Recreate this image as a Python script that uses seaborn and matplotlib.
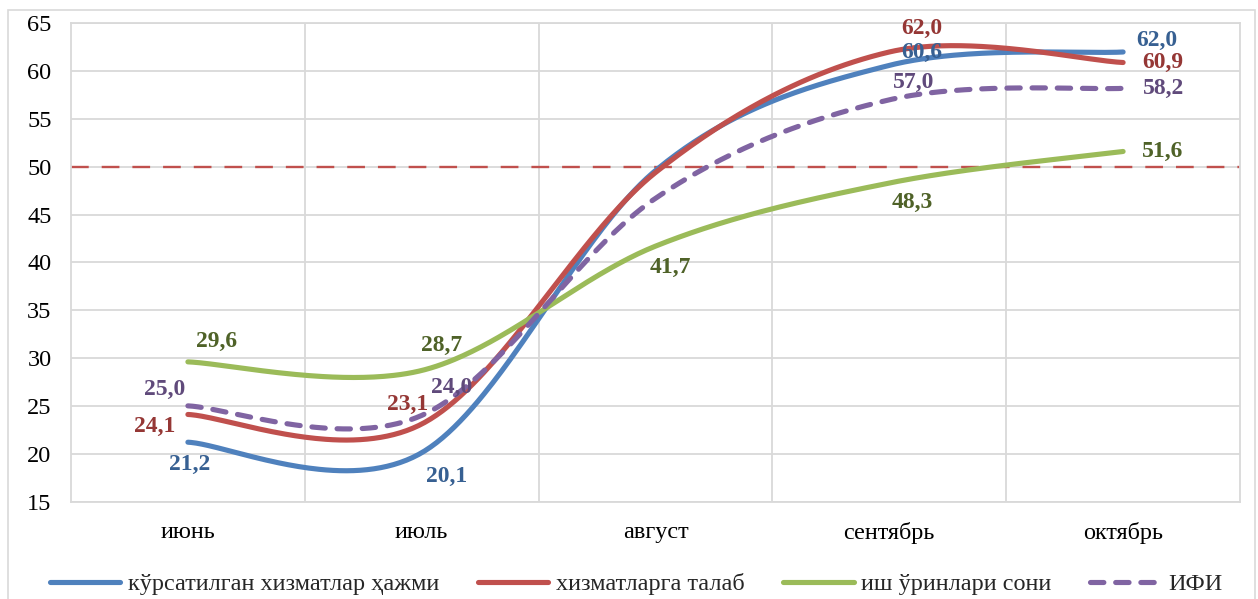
import numpy as np
import pandas as pd
import matplotlib
matplotlib.use("Agg")
import matplotlib.pyplot as plt
from matplotlib.lines import Line2D
from matplotlib.patches import Rectangle
import seaborn as sns

# ---------------- data ----------------
months = ["июнь", "июль", "август", "сентябрь", "октябрь"]
volume = [21.2, 20.1, 49.6, 60.6, 62.0]      # кўрсатилган хизматлар ҳажми
demand = [24.1, 23.1, 49.4, 62.0, 60.9]      # хизматларга талаб
jobs = [29.6, 28.7, 41.7, 48.3, 51.6]        # иш ўринлари сони
ifi = [25.0, 24.0, 46.7, 57.0, 58.2]         # ИФИ
series_names = ["кўрсатилган хизматлар ҳажми", "хизматларга талаб",
                "иш ўринлари сони", "ИФИ"]
threshold = 50
yticks = [15, 20, 25, 30, 35, 40, 45, 50, 55, 60, 65]
# which points carry a value label (август hidden for three series)
show_labels = [
    [True, True, False, True, True],
    [True, True, False, True, True],
    [True, True, True, True, True],
    [True, True, False, True, True],
]

sns.set_theme(style="white")
plt.rcParams["font.family"] = ["Liberation Serif", "DejaVu Serif"]

line_cols = ["#4F81BD", "#C0504D", "#9BBB59", "#8064A2"]
lab_cols = ["#376092", "#953735", "#4F6228", "#604A7B"]
grid_col = "#D9D9D9"
FS = 17.5
LFS = 17


def excel_smooth(vals, n=80):
    """Bezier smoothing like Excel 'smoothed line' (Catmull-Rom tangents)."""
    y = np.asarray(vals, float)
    x = np.arange(len(y), dtype=float)
    xs, ys = [], []
    m = len(y)
    for i in range(m - 1):
        i0 = max(i - 1, 0)
        i3 = min(i + 2, m - 1)
        p0, p1, p2, p3 = (np.array([x[k], y[k]]) for k in (i0, i, i + 1, i3))
        c1 = p1 + (p2 - p0) / 6.0
        c2 = p2 - (p3 - p1) / 6.0
        t = np.linspace(0, 1, n)[:, None]
        b = ((1 - t) ** 3) * p1 + 3 * ((1 - t) ** 2) * t * c1 + 3 * (1 - t) * t ** 2 * c2 + t ** 3 * p2
        if i > 0:
            b = b[1:]
        xs.append(b[:, 0])
        ys.append(b[:, 1])
    return np.concatenate(xs), np.concatenate(ys)


W, H = 1258, 599
fig = plt.figure(figsize=(W / 100, H / 100), dpi=100)
ax = fig.add_axes([71 / W, (H - 501.5) / H, (1240 - 71) / W, (501.5 - 23.3) / H])

# outer chart frame (bottom edge lies below the image)
fig.patches.append(Rectangle((8 / W, -10 / H), (1255 - 8) / W, (589 + 10) / H,
                             transform=fig.transFigure, fill=False,
                             edgecolor=grid_col, lw=1.2, zorder=0))

ax.set_xlim(-0.5, len(months) - 0.5)
ax.set_ylim(15, 65)
ax.set_yticks(yticks)
ax.set_yticklabels([str(v) for v in yticks])
ax.set_xticks(range(len(months)))
ax.set_xticklabels(months)
ax.set_xticks(np.arange(len(months) - 1) + 0.5, minor=True)
ax.tick_params(axis="both", which="both", length=0, labelsize=FS, colors="#000000")
ax.tick_params(axis="y", pad=14)
ax.tick_params(axis="x", pad=15)
ax.grid(False)
ax.yaxis.grid(True, which="major", color=grid_col, lw=1.3)
ax.xaxis.grid(True, which="minor", color=grid_col, lw=1.3)
for s in ax.spines.values():
    s.set_color(grid_col)
    s.set_linewidth(1.3)
ax.set_axisbelow(True)

ax.axhline(threshold, color="#C0504D", lw=1.7, linestyle=(0, (7.5, 5.5)), zorder=2)

all_vals = [volume, demand, jobs, ifi]
styles = ["-", "-", "-", (0, (2.6, 2.3))]
draw_order = [2, 0, 1, 3]
for k in draw_order:
    sx, sy = excel_smooth(all_vals[k])
    df = pd.DataFrame({"x": sx, "y": sy})
    sns.lineplot(data=df, x="x", y="y", ax=ax, color=line_cols[k], lw=3.7,
                 linestyle=styles[k], solid_capstyle="round",
                 dash_capstyle="round", sort=False, estimator=None, zorder=3 + k)

# label offsets in pixels (dx right, dy up)
offsets = [
    [(2, -22), (25, -24), (0, 0), (33, 13), (34, 12)],
    [(-33, -12), (-14, 20), (0, 0), (33, 24), (40, 0)],
    [(29, 20), (20, 25), (15, -21), (23, -19), (40, 0)],
    [(-23, 16), (30, 28), (0, 0), (24, 17), (40, 0)],
]
for k in range(4):
    for i, v in enumerate(all_vals[k]):
        if not show_labels[k][i]:
            continue
        dx, dy = offsets[k][i]
        ax.annotate(f"{v:.1f}".replace(".", ","), xy=(i, v), xytext=(dx, dy),
                    textcoords="offset pixels", ha="center", va="center",
                    fontsize=LFS, fontweight="bold", color=lab_cols[k], zorder=10)

ax.set_xlabel("")
ax.set_ylabel("")
if ax.get_legend():
    ax.get_legend().remove()

handles = [Line2D([0], [0], color=line_cols[k], lw=3.7, linestyle=styles[k],
                  solid_capstyle="round", dash_capstyle="round") for k in range(4)]
fig.legend(handles, series_names, loc="center", bbox_to_anchor=(636 / W, (H - 584) / H),
           ncol=4, frameon=False, fontsize=FS, handlelength=2.9, handletextpad=0.3,
           columnspacing=1.6)

fig.savefig("out.png", dpi=100)
